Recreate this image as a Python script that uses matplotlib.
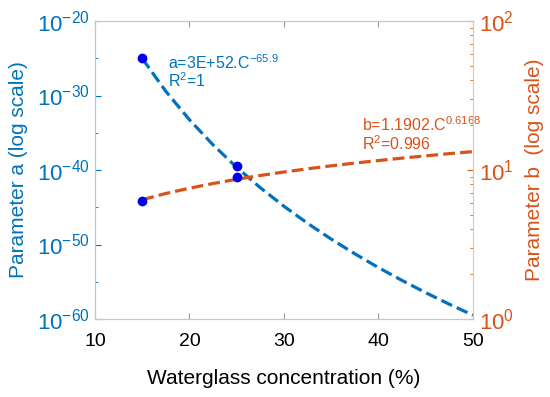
import numpy as np
import matplotlib
matplotlib.use('Agg')
import matplotlib.pyplot as plt
from matplotlib.ticker import FixedLocator, FixedFormatter, NullFormatter

plt.rcParams['font.family'] = ['Liberation Sans', 'DejaVu Sans']

# pontos medidos
conc_pts = [15, 25]
a_pts_exp = [-25.0, -39.4]      # log10 do parametro a
b_pts = [6.2, 9.0]

# curvas ajustadas
conc_fit = [15, 17.5, 20, 22.5, 25, 27.5, 30, 32.5, 35, 37.5, 40, 42.5, 45, 47.5, 50]
a_fit_exp = [-25.03, -29.44, -33.26, -36.63, -39.65, -42.38, -44.87, -47.16,
             -49.28, -51.25, -53.10, -54.83, -56.47, -58.02, -59.49]
b_fit = [6.32, 6.96, 7.55, 8.12, 8.67, 9.19, 9.70, 10.19, 10.67, 11.13,
         11.58, 12.02, 12.45, 12.88, 13.29]

azul = '#0072BD'
laranja = '#D95319'

fig = plt.figure(figsize=(5.5, 3.97), dpi=100)
ax = fig.add_axes([0.1727, 0.1965, 0.6873, 0.7505])
ax2 = ax.twinx()

ax.plot(conc_fit, 10.0 ** np.array(a_fit_exp), '--', color=azul, lw=2.3)
ax.plot(conc_pts, 10.0 ** np.array(a_pts_exp), 'o', color='#0000EE', ms=6)
ax2.plot(conc_fit, b_fit, '--', color=laranja, lw=2.3)
ax2.plot(conc_pts, b_pts, 'o', color='#0000EE', ms=6)

ax.set_xlim(10, 50)
ax.set_yscale('log')
ax.set_ylim(1e-60, 1e-20)
ax2.set_yscale('log')
ax2.set_ylim(1, 100)

# ticks eixo esquerdo
maj = [10.0 ** e for e in range(-60, -19, 10)]
ax.yaxis.set_major_locator(FixedLocator(maj))
ax.yaxis.set_major_formatter(FixedFormatter([r'$\mathregular{10^{%d}}$' % e for e in range(-60, -19, 10)]))
ax.yaxis.set_minor_locator(FixedLocator([10.0 ** e for e in range(-55, -20, 10)]))
ax.yaxis.set_minor_formatter(NullFormatter())

# ticks eixo direito
ax2.yaxis.set_major_locator(FixedLocator([1, 10, 100]))
ax2.yaxis.set_major_formatter(FixedFormatter([r'$\mathregular{10^{0}}$', r'$\mathregular{10^{1}}$', r'$\mathregular{10^{2}}$']))
ax2.yaxis.set_minor_locator(FixedLocator([m * d for d in (1, 10) for m in range(2, 10)]))
ax2.yaxis.set_minor_formatter(NullFormatter())

ax.set_xticks([10, 20, 30, 40, 50])
ax.tick_params(axis='x', direction='in', top=True, length=4, labelsize=14, color='#999999', pad=10)
ax.tick_params(axis='y', which='both', direction='in', colors=azul, labelsize=16, pad=4)
ax.tick_params(axis='y', which='major', length=4)
ax.tick_params(axis='y', which='minor', length=2)
ax2.tick_params(axis='y', which='both', direction='in', colors=laranja, labelsize=16, pad=4)
ax2.tick_params(axis='y', which='major', length=4)
ax2.tick_params(axis='y', which='minor', length=2)

for s in ['top', 'bottom']:
    ax.spines[s].set_color('#c8c8c8')
    ax2.spines[s].set_color('#c8c8c8')
ax.spines['left'].set_color('#a9cbe6')
ax2.spines['left'].set_color('#a9cbe6')
ax2.spines['right'].set_color('#efc0a8')
ax.spines['right'].set_visible(False)

ax.set_xlabel('Waterglass concentration (%)', fontsize=15, labelpad=14)
ax.set_ylabel('Parameter a (log scale)', fontsize=15, color=azul, labelpad=6)
ax2.set_ylabel('Parameter b  (log scale)', fontsize=15, color=laranja, labelpad=8)

ax.text(0.193, 0.862, r'a=3E+52.C$^{\mathregular{-65.9}}$', transform=ax.transAxes,
        fontsize=11.5, color=azul, va='center')
ax.text(0.193, 0.80, r'R$^{\mathregular{2}}$=1', transform=ax.transAxes,
        fontsize=11.5, color=azul, va='center')
ax.text(0.706, 0.651, r'b=1.1902.C$^{\mathregular{0.6168}}$', transform=ax.transAxes,
        fontsize=11.5, color=laranja, va='center')
ax.text(0.706, 0.59, r'R$^{\mathregular{2}}$=0.996', transform=ax.transAxes,
        fontsize=11.5, color=laranja, va='center')

fig.savefig('out.png', dpi=100)
